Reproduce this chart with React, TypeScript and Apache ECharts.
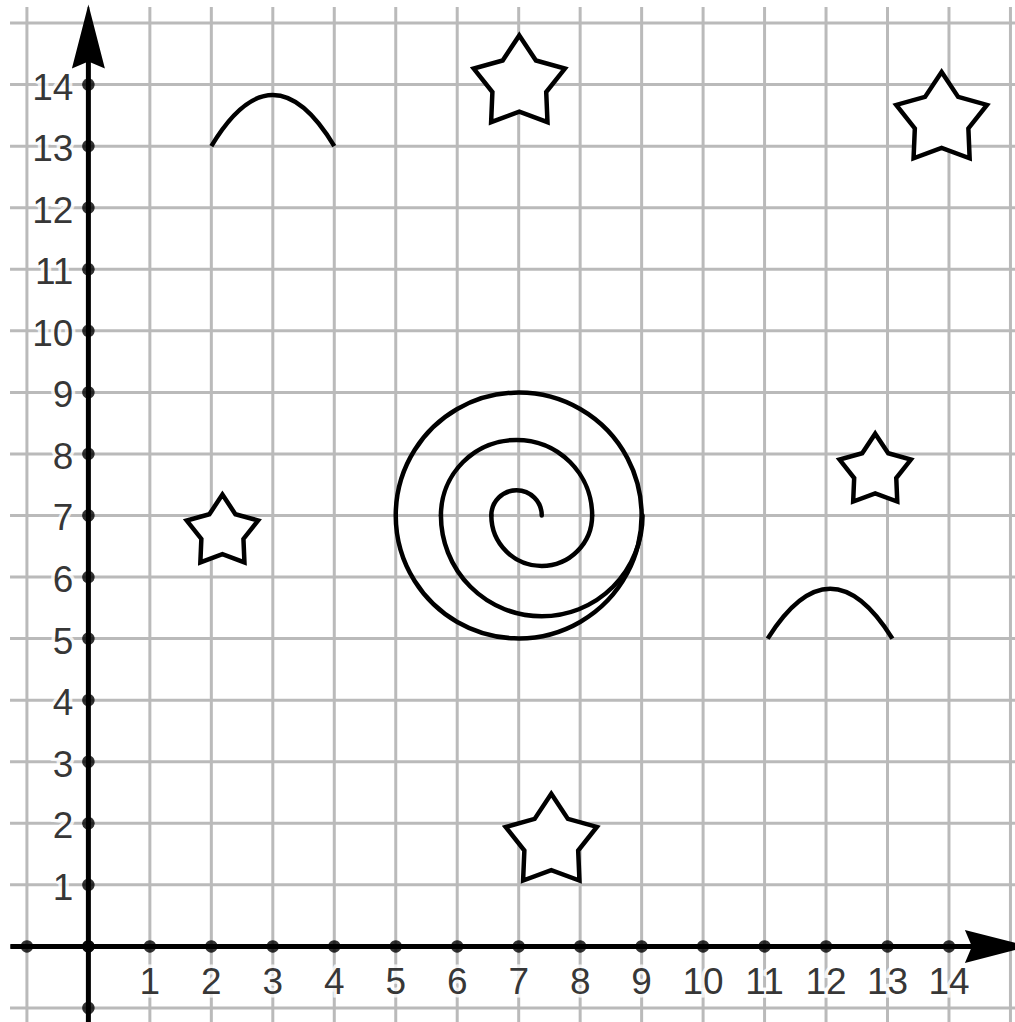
import React, { useEffect, useRef } from "react";
import * as echarts from "echarts";

// Visible data window of the plotting area
const xRange = [-1.438, 15.074];
const yRange = [-1.228, 15.374];

// Grid lines
const gridXs = [-1, 0, 1, 2, 3, 4, 5, 6, 7, 8, 9, 10, 11, 12, 13, 14, 15];
const gridYs = [-1, 0, 1, 2, 3, 4, 5, 6, 7, 8, 9, 10, 11, 12, 13, 14, 15];
const gridLineTop = 15.26;
const gridLineLeft = -1.275;

// Axes
const axisLineStartX = -1.27;
const axisLineStartY = -1.23;
const arrowTip = 15.3;

// Tick dots
const tickXs = [-1, 0, 1, 2, 3, 4, 5, 6, 7, 8, 9, 10, 11, 12, 13, 14];
const tickYs = [-1, 0, 1, 2, 3, 4, 5, 6, 7, 8, 9, 10, 11, 12, 13, 14];

// Tick labels
const xTickValues = [1, 2, 3, 4, 5, 6, 7, 8, 9, 10, 11, 12, 13, 14];
const xTickLabels = ["1", "2", "3", "4", "5", "6", "7", "8", "9", "10", "11", "12", "13", "14"];
const yTickValues = [1, 2, 3, 4, 5, 6, 7, 8, 9, 10, 11, 12, 13, 14];
const yTickLabels = ["1", "2", "3", "4", "5", "6", "7", "8", "9", "10", "11", "12", "13", "14"];

// Stars: centre and outer radius (in units)
const starX = [7.01, 13.88, 7.53, 2.18, 12.8];
const starY = [14.02, 13.43, 1.7, 6.73, 7.72];
const starR = [0.78, 0.776, 0.78, 0.61, 0.61];

// Spiral: half-circle arcs (part 0 = upper half, 1 = lower half, 2 = full circle)
const arcCx = [6.965, 7.375, 6.965, 7.375, 7];
const arcCy = [7, 7, 7, 7, 7];
const arcR = [0.41, 0.82, 1.23, 1.64, 2.0];
const arcPart = [0, 1, 0, 1, 2];

// Arches: start x, end x, base y, peak x, peak y
const archX1 = [2, 11.05];
const archX2 = [4, 13.08];
const archBase = [13, 5];
const archPeakX = [3, 12.07];
const archPeakY = [13.83, 5.81];

const FONT = "'Liberation Sans', Arial, Helvetica, sans-serif";
const LABEL_SIZE = 37;

function labelSeries(
  name: string,
  points: number[][],
  texts: string[],
  position: number[],
  align: string,
  halo: boolean,
  z: number
) {
  return {
    type: "scatter",
    name,
    z,
    silent: true,
    symbolSize: 1,
    itemStyle: { color: "rgba(0,0,0,0)" },
    data: points.map((p, i) => ({ value: p, name: texts[i] })),
    label: {
      show: true,
      position,
      align,
      verticalAlign: "middle",
      formatter: (p: any) => p.name,
      fontFamily: FONT,
      fontSize: LABEL_SIZE,
      color: halo ? "#fff" : "#000",
      textBorderColor: halo ? "#fff" : "transparent",
      textBorderWidth: halo ? 7 : 0,
    },
  };
}

export default function App() {
  const ref = useRef<HTMLDivElement>(null);

  useEffect(() => {
    if (!ref.current) return;
    const chart = echarts.init(ref.current, undefined, { renderer: "svg" });

    const xLabelPts = xTickValues.map((x) => [x, 0]);
    const yLabelPts = yTickValues.map((y) => [0, y]);
    const xPos = [0.5, 36];
    const yPos = [-14.5, 3];

    const option: any = {
      animation: false,
      backgroundColor: "#ffffff",
      grid: { left: 0, right: 0, top: 0, bottom: 0, containLabel: false },
      xAxis: {
        type: "value",
        min: xRange[0],
        max: xRange[1],
        show: false,
        splitLine: { show: false },
      },
      yAxis: {
        type: "value",
        min: yRange[0],
        max: yRange[1],
        show: false,
        splitLine: { show: false },
      },
      series: [
        {
          type: "custom",
          name: "vgrid",
          z: 1,
          clip: false,
          silent: true,
          data: gridXs.map((x) => [x, 0]),
          renderItem: (params: any, api: any) => {
            const x = api.value(0);
            const p1 = api.coord([x, gridLineTop]);
            const p2 = api.coord([x, yRange[0]]);
            return {
              type: "line",
              shape: { x1: p1[0], y1: p1[1], x2: p2[0], y2: p2[1] },
              style: { stroke: "#bababa", lineWidth: 3 },
            };
          },
        },
        {
          type: "custom",
          name: "hgrid",
          z: 1,
          clip: false,
          silent: true,
          data: gridYs.map((y) => [0, y]),
          renderItem: (params: any, api: any) => {
            const y = api.value(1);
            const p1 = api.coord([gridLineLeft, y]);
            const p2 = api.coord([xRange[1], y]);
            return {
              type: "line",
              shape: { x1: p1[0], y1: p1[1], x2: p2[0], y2: p2[1] },
              style: { stroke: "#bababa", lineWidth: 3 },
            };
          },
        },
        {
          type: "custom",
          name: "spiral",
          z: 3,
          clip: false,
          silent: true,
          data: arcCx.map((cx, i) => [cx, arcCy[i], arcR[i], arcPart[i]]),
          renderItem: (params: any, api: any) => {
            const c = api.coord([api.value(0), api.value(1)]);
            const r = api.size([api.value(2), 0])[0];
            const part = api.value(3);
            let startAngle = 0;
            let endAngle = Math.PI * 2;
            if (part === 0) {
              startAngle = Math.PI;
              endAngle = Math.PI * 2;
            } else if (part === 1) {
              startAngle = 0;
              endAngle = Math.PI;
            }
            return {
              type: "arc",
              shape: { cx: c[0], cy: c[1], r, startAngle, endAngle, clockwise: true },
              style: { stroke: "#000", fill: null, lineWidth: 4.5, lineCap: "round" },
            };
          },
        },
        {
          type: "custom",
          name: "arches",
          z: 3,
          clip: false,
          silent: true,
          data: archX1.map((x1, i) => [x1, archBase[i], archX2[i], archPeakX[i], archPeakY[i]]),
          renderItem: (params: any, api: any) => {
            const base = api.value(1);
            const p1 = api.coord([api.value(0), base]);
            const p2 = api.coord([api.value(2), base]);
            const cp = api.coord([api.value(3), 2 * api.value(4) - base]);
            return {
              type: "bezierCurve",
              shape: { x1: p1[0], y1: p1[1], x2: p2[0], y2: p2[1], cpx1: cp[0], cpy1: cp[1] },
              style: { stroke: "#000", fill: null, lineWidth: 4.5 },
            };
          },
        },
        {
          type: "custom",
          name: "stars",
          z: 3,
          clip: false,
          silent: true,
          data: starX.map((x, i) => [x, starY[i], starR[i]]),
          renderItem: (params: any, api: any) => {
            const c = api.coord([api.value(0), api.value(1)]);
            const R = api.size([api.value(2), 0])[0];
            const r = R * 0.59;
            const pts: number[][] = [];
            for (let k = 0; k < 10; k++) {
              const a = -Math.PI / 2 + (k * Math.PI) / 5;
              const rr = k % 2 === 0 ? R : r;
              pts.push([c[0] + rr * Math.cos(a), c[1] + rr * Math.sin(a)]);
            }
            return {
              type: "polygon",
              shape: { points: pts },
              style: { fill: "#fff", stroke: "#000", lineWidth: 4.5, lineJoin: "miter" },
            };
          },
        },
        {
          type: "custom",
          name: "axes",
          z: 4,
          clip: false,
          silent: true,
          data: [
            [axisLineStartX, 0, 1],
            [0, axisLineStartY, 0],
          ],
          renderItem: (params: any, api: any) => {
            const dir = api.value(2);
            const start = api.coord([api.value(0), api.value(1)]);
            let end;
            if (dir === 1) {
              end = api.coord([arrowTip, 0]);
              end = [end[0] - 40, end[1]];
            } else {
              end = api.coord([0, arrowTip]);
              end = [end[0], end[1] + 40];
            }
            return {
              type: "line",
              shape: { x1: start[0], y1: start[1], x2: end[0], y2: end[1] },
              style: { stroke: "#000", lineWidth: 5 },
            };
          },
        },
        {
          type: "custom",
          name: "arrows",
          z: 5,
          clip: false,
          silent: true,
          data: [
            [arrowTip, 0, 1],
            [0, arrowTip, 0],
          ],
          renderItem: (params: any, api: any) => {
            const t = api.coord([api.value(0), api.value(1)]);
            const dir = api.value(2);
            const L = 64;
            const W = 16.5;
            const N = 57;
            const pts =
              dir === 1
                ? [
                    [t[0], t[1]],
                    [t[0] - L, t[1] - W],
                    [t[0] - N, t[1]],
                    [t[0] - L, t[1] + W],
                  ]
                : [
                    [t[0], t[1]],
                    [t[0] - W, t[1] + L],
                    [t[0], t[1] + N],
                    [t[0] + W, t[1] + L],
                  ];
            return {
              type: "polygon",
              shape: { points: pts },
              style: { fill: "#000", stroke: null },
            };
          },
        },
        {
          type: "scatter",
          name: "ticks",
          z: 6,
          silent: true,
          symbol: "circle",
          symbolSize: 12.5,
          itemStyle: { color: "#000" },
          data: [...tickXs.map((x) => [x, 0]), ...tickYs.map((y) => [0, y])],
        },
        labelSeries("xLabelHalo", xLabelPts, xTickLabels, xPos, "center", true, 7),
        labelSeries("yLabelHalo", yLabelPts, yTickLabels, yPos, "right", true, 7),
        labelSeries("xLabels", xLabelPts, xTickLabels, xPos, "center", false, 8),
        labelSeries("yLabels", yLabelPts, yTickLabels, yPos, "right", false, 8),
      ],
    };

    chart.setOption(option);
    return () => {
      chart.dispose();
    };
  }, []);

  return (
    <div
      ref={ref}
      style={{ position: "fixed", left: 0, top: 0, width: 1015, height: 1022, background: "#fff" }}
    />
  );
}
